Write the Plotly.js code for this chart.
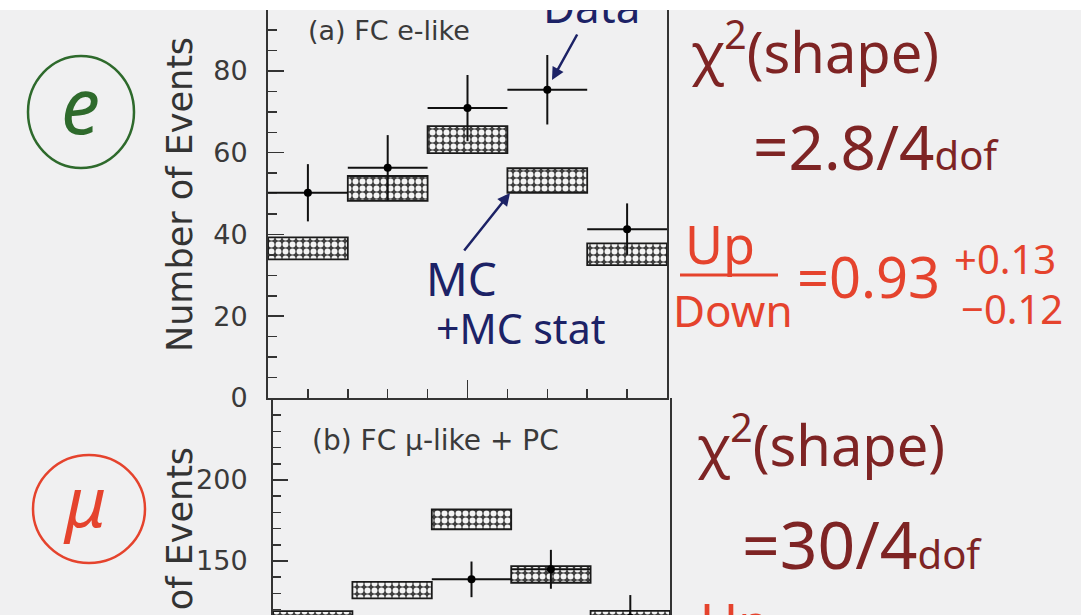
<!DOCTYPE html>
<html>
<head>
<meta charset="utf-8">
<script src="https://cdn.plot.ly/plotly-3.0.1.min.js"></script>
<style>
  html, body { margin: 0; padding: 0; background: #ffffff; width: 1081px; height: 615px; overflow: hidden; }
  #chart { position: absolute; left: 0; top: 10px; width: 1081px; height: 605px; }
</style>
</head>
<body>
<div id="chart"></div>
<script>
// ---- data ----
const binEdges   = [-1, -0.6, -0.2, 0.2, 0.6, 1];          // cos(zenith) bins
const eDataY     = [50.2, 56.3, 70.9, 75.4, 41.3];          // (a) FC e-like data
const eDataErr   = [7.0, 8.0, 8.1, 8.5, 6.3];
const eMcLow     = [33.9, 48.2, 59.9, 50.2, 32.5];          // MC + MC stat band
const eMcHigh    = [39.3, 54.3, 66.5, 56.2, 37.8];
const muDataY    = [95, 100, 138.7, 144.9, 115];            // (b) FC mu-like + PC data
const muDataErr  = [10, 10, 11, 12, 14];
const muMcLow    = [110, 127.0, 169.6, 136.6, 110];
const muMcHigh   = [119.1, 137.2, 181.9, 146.9, 119.3];
const eTickVals  = [0, 20, 40, 60, 80];
const muTickVals = [150, 200];

// ---- derived ----
const centers = binEdges.slice(0, -1).map((e, i) => (e + binEdges[i + 1]) / 2);
const widths  = binEdges.slice(0, -1).map((e, i) => binEdges[i + 1] - e);
const halfW   = widths.map(w => w / 2);
const diff = (hi, lo) => hi.map((h, i) => h - lo[i]);

// page pixel -> paper coords (figure is offset 10px from the top of the page)
const W = 1081, H = 605, OFF = 10;
const PX = x => x / W;
const PY = y => 1 - (y - OFF) / H;

const pattern = { shape: '.', fgcolor: '#f4f4f4', bgcolor: '#3e3e3e', size: 7, solidity: 0.55 };

const traces = [
  { type: 'bar', x: centers, y: diff(eMcHigh, eMcLow), base: eMcLow, width: widths,
    marker: { color: '#3e3e3e', pattern: pattern, line: { color: '#1a1a1a', width: 1.8 } },
    xaxis: 'x', yaxis: 'y', hoverinfo: 'skip', showlegend: false },
  { type: 'scatter', mode: 'markers', x: centers, y: eDataY,
    error_y: { type: 'data', array: eDataErr, color: '#111', thickness: 2, width: 0 },
    error_x: { type: 'data', array: halfW, color: '#111', thickness: 2, width: 0 },
    marker: { color: '#000', size: 8 }, xaxis: 'x', yaxis: 'y', showlegend: false },
  { type: 'bar', x: centers, y: diff(muMcHigh, muMcLow), base: muMcLow, width: widths,
    marker: { color: '#3e3e3e', pattern: pattern, line: { color: '#1a1a1a', width: 1.8 } },
    xaxis: 'x2', yaxis: 'y2', hoverinfo: 'skip', showlegend: false },
  { type: 'scatter', mode: 'markers', x: centers, y: muDataY,
    error_y: { type: 'data', array: muDataErr, color: '#111', thickness: 2, width: 0 },
    error_x: { type: 'data', array: halfW, color: '#111', thickness: 2, width: 0 },
    marker: { color: '#000', size: 8 }, xaxis: 'x2', yaxis: 'y2', showlegend: false }
];

const axisFont = { family: 'DejaVu Sans', size: 27, color: '#3a3a3a' };
const bg = '#f0f0f1';
const brown = '#7e2424', red = '#e5432d', navy = '#1c2266', green = '#2e6a2c';
const hand = 'Noto Sans';

function note(text, x, y, font, extra) {
  return Object.assign({ text: text, x: PX(x), y: PY(y), xref: 'paper', yref: 'paper',
    xanchor: 'center', yanchor: 'middle', showarrow: false, font: font }, extra || {});
}

const layout = {
  width: W, height: H,
  margin: { l: 0, r: 0, t: 0, b: 0 },
  paper_bgcolor: bg, plot_bgcolor: bg,
  barmode: 'overlay', showlegend: false,
  xaxis: {
    domain: [PX(268), PX(667)], range: [binEdges[0], binEdges[binEdges.length - 1]],
    anchor: 'y', showline: true, linecolor: '#333', linewidth: 2, mirror: false,
    showgrid: false, zeroline: false, showticklabels: false,
    tickmode: 'linear', tick0: 0, dtick: 1, ticks: 'inside', ticklen: 18, tickwidth: 1.5, tickcolor: '#333',
    minor: { tickmode: 'linear', tick0: 0, dtick: 0.2, ticks: 'inside', ticklen: 9, tickwidth: 1.5, tickcolor: '#333' }
  },
  yaxis: {
    domain: [PY(398), 1], range: [0, 94.9], anchor: 'x',
    showline: true, linecolor: '#333', linewidth: 2, mirror: true,
    showgrid: false, zeroline: false,
    tickmode: 'array', tickvals: eTickVals, ticks: 'inside', ticklen: 16, tickwidth: 1.5, tickcolor: '#333',
    ticklabelstandoff: 13, tickfont: axisFont,
    minor: { tickmode: 'linear', tick0: 0, dtick: 5, ticks: 'inside', ticklen: 9, tickwidth: 1.5, tickcolor: '#333' }
  },
  xaxis2: {
    domain: [PX(273), PX(670)], range: [binEdges[0], binEdges[binEdges.length - 1]],
    anchor: 'y2', showline: false, showgrid: false, zeroline: false, showticklabels: false, ticks: ''
  },
  yaxis2: {
    domain: [0, PY(398)], range: [116.7, 250.6], anchor: 'x2',
    showline: true, linecolor: '#333', linewidth: 2, mirror: true,
    showgrid: false, zeroline: false,
    tickmode: 'array', tickvals: muTickVals, ticks: 'inside', ticklen: 15, tickwidth: 1.5, tickcolor: '#333',
    ticklabelstandoff: 18, tickfont: axisFont,
    minor: { tickmode: 'linear', tick0: 0, dtick: 10, ticks: 'inside', ticklen: 8, tickwidth: 1.5, tickcolor: '#333' }
  },
  shapes: [
    { type: 'circle', xref: 'paper', yref: 'paper', x0: PX(28), x1: PX(134), y0: PY(168), y1: PY(56),
      line: { color: green, width: 2.5 } },
    { type: 'circle', xref: 'paper', yref: 'paper', x0: PX(33), x1: PX(145), y0: PY(563), y1: PY(455),
      line: { color: red, width: 2.5 } },
    { type: 'line', xref: 'paper', yref: 'paper', x0: PX(680), x1: PX(778), y0: PY(275), y1: PY(275),
      line: { color: red, width: 3 } }
  ],
  annotations: [
    note('Number of Events', 180, 195, { family: 'DejaVu Sans', size: 35, color: '#333' }, { textangle: -90 }),
    note('Number of Events', 180, 605, { family: 'DejaVu Sans', size: 35, color: '#333' }, { textangle: -90 }),
    note('(a) FC e-like', 306, 30, { family: 'DejaVu Sans', size: 27, color: '#3a3a3a' }, { xanchor: 'left' }),
    note('(b) FC \u03bc-like + PC', 310, 440, { family: 'DejaVu Sans', size: 28, color: '#3a3a3a' }, { xanchor: 'left' }),
    // handwritten notes
    note('e', 80, 104, { family: hand, size: 78, color: green, style: 'italic' }),
    note('\u03bc', 84, 500, { family: hand, size: 70, color: red, style: 'italic' }),
    note('Data', 591, 38, { family: hand, size: 44, color: navy }, { yanchor: 'bottom' }),
    { text: '', x: PX(552), y: PY(80), xref: 'paper', yref: 'paper', showarrow: true,
      ax: 26, ay: -47, arrowcolor: navy, arrowwidth: 2.5, arrowhead: 2, arrowsize: 1 },
    note('MC', 461, 278, { family: hand, size: 46, color: navy }),
    note('+MC stat', 520, 328, { family: hand, size: 41, color: navy }),
    { text: '', x: PX(510), y: PY(193), xref: 'paper', yref: 'paper', showarrow: true,
      ax: -47, ay: 59, arrowcolor: navy, arrowwidth: 2.5, arrowhead: 2, arrowsize: 1 },
    note('\u03c7<sup>2</sup>(shape)', 815, 48, { family: hand, size: 56, color: brown }),
    note('=2.8/4<span style="font-size:40px">dof</span>', 876, 146, { family: hand, size: 62, color: brown }),
    note('Up', 720, 243, { family: hand, size: 52, color: red }),
    note('Down', 733, 310, { family: hand, size: 44, color: red }),
    note('=0.93', 868, 276, { family: hand, size: 56, color: red }),
    note('+0.13', 1005, 258, { family: hand, size: 40, color: red }),
    note('\u22120.12', 1012, 308, { family: hand, size: 40, color: red }),
    note('\u03c7<sup>2</sup>(shape)', 821, 441, { family: hand, size: 56, color: brown }),
    note('=30/4<span style="font-size:40px">dof</span>', 862, 543, { family: hand, size: 66, color: brown }),
    note('Up', 698, 584, { family: hand, size: 52, color: red }, { xanchor: 'left', yanchor: 'top' })
  ]
};

Plotly.newPlot('chart', traces, layout, { displayModeBar: false, staticPlot: true });
</script>
</body>
</html>
